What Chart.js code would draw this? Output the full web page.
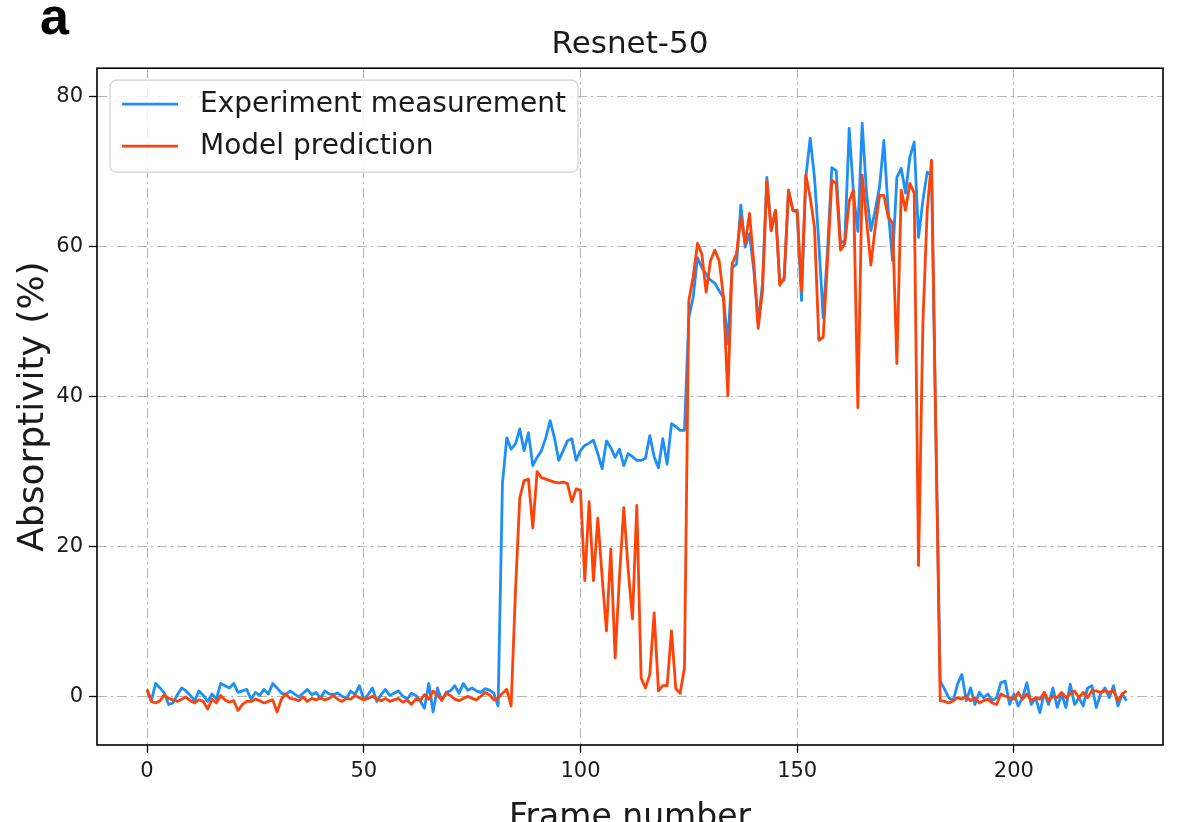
<!DOCTYPE html>
<html>
<head>
<meta charset="utf-8">
<script src="https://cdn.jsdelivr.net/npm/chart.js@4.4.1/dist/chart.umd.min.js"></script>
<style>
  html, body { margin: 0; padding: 0; background: #fff; overflow: hidden; }
  #wrap { width: 1179px; height: 850px; }
</style>
</head>
<body>
<div id="wrap"><canvas id="chart"></canvas></div>
<script>
// absorptivity per frame (%)
const measured = [
  1, -0.5, 1.8, 1.2, 0.5, -1, -0.8, 0.3, 1.2, 0.8,
  0.2, -0.5, 0.8, 0.2, -0.6, 0.4, -0.3, 1.8, 1.5, 1.2,
  1.8, 0.6, 0.8, 1.0, -0.3, 0.6, 0.2, 1.0, 0.4, 1.8,
  1.2, 0.5, 0.3, 0.8, 0.4, 0, 0.5, 1.0, 0.3, 0.6,
  -0.2, 0.8, 0.4, 0.3, 0.5, 0.1, -0.2, 0.8, 0.3, 1.5,
  -0.4, 0.3, 1.2, -0.6, 0.3, 1.0, 0.2, 0.5, 0.8, 0.1,
  -0.3, 0.5, 0.2, -0.5, -1.5, 1.8, -2, 1.2, -0.5, 0.6,
  0.8, 1.5, 0.5, 1.8, 0.9, 1.2, 0.8, 0.6, 1.1, 0.9,
  0.5, -1.2, 28.4, 34.5, 33, 33.7, 35.7, 32.8, 35.2, 30.8,
  31.9, 32.8, 34.5, 36.8, 34.5, 31.5, 32.8, 34.1, 34.4, 31.5,
  32.8, 33.5, 33.8, 34.2, 32.4, 30.4, 34.1, 33.2, 31.9, 33.0,
  30.8, 32.4, 32.0, 31.5, 31.5, 31.8, 34.8, 32.0, 30.5, 34.4,
  31.0, 36.4, 36.0, 35.5, 35.5, 50.5, 53.2, 58.5, 57.2, 56.3,
  55.5, 55.1, 54.1, 53.2, 47, 57.2, 57.6, 65.5, 59.9, 61.7,
  56.8, 49.7, 55.1, 69.2, 62.1, 64.8, 55.1, 55.5, 67.5, 64.8,
  64.5, 52.8, 69.2, 74.4, 69.2, 60.4, 50.5, 59.5, 70.5, 70.1,
  60.4, 60.8, 75.7, 67, 62, 76.4, 67.1, 62.1, 64.8, 67.9,
  74.1, 64.8, 58.1, 69.2, 70.4, 67.1, 71.9, 73.9, 61.2, 66.1,
  69.9, 69.5, 35, 2.1, 1.0, -0.1, -0.5, 1.7, 3.0, -0.5,
  1.2, -1.0, 0.6, -0.1, 0.4, -0.5, -0.1, 1.9, 2.1, -1.0,
  0.4, -1.2, -0.1, 1.9, -1.0, -0.1, -2.1, 0.6, -1.0, 1.2,
  -1.4, 0.4, -1.4, 1.7, -1.0, -0.1, -1.2, 1.2, 1.5, -1.4,
  0.4, 1.2, -0.1, 1.5, -1.2, 0.4, -0.5
];

const predicted = [
  1, -0.6, -0.8, -0.5, 0.3, -0.2, -0.4, -0.6, -0.3, 0,
  -0.5, -0.8, -0.4, -0.6, -1.6, -0.3, -0.8, 0.2, -0.4, -0.7,
  -0.5, -1.8, -1.0, -0.6, -0.6, -0.3, -0.5, -0.8, -0.6, -0.4,
  -2.0, -0.3, 0.4, -0.2, -0.3, -0.5, 0, -0.6, -0.2, -0.4,
  -0.1, -0.4, -0.2, 0.2, -0.3, -0.6, -0.2, -0.3, 0.2, -0.1,
  -0.4, -0.2, 0.1, -0.3, -0.5, -0.2, -0.6, -0.4, -0.2, -0.7,
  -0.4, -1.0, -0.3, -0.5, 0.3, -0.3, 0.8, 0.2, -0.4, 0.5,
  0.2, -0.3, -0.5, -0.2, 0.1, -0.2, -0.4, 0.1, 0.6, 0.3,
  -0.4, -0.2, 0.5, 1.0, -1.2, 14, 26.5, 28.8, 29, 22.5,
  30, 29.2, 29, 28.8, 28.6, 28.5, 28.6, 28.4, 26, 27.7,
  27.5, 15.5, 26, 15.5, 23.8, 16, 8.8, 19.7, 5.2, 16,
  25.2, 17, 10.4, 25.5, 2.5, 1.2, 3, 11.2, 0.8, 1.5,
  1.5, 8.8, 1.1, 0.5, 3.9, 52.8, 55.9, 60.4, 59, 53.9,
  58.1, 59.5, 58.1, 53.2, 40.1, 57.7, 59, 63.9, 60.4, 64.4,
  57.7, 49.1, 54.1, 68.8, 62.1, 64.8, 54.8, 55.9, 67.5, 64.8,
  64.8, 54.1, 69.5, 66.5, 62.5, 47.5, 47.9, 58.1, 68.8, 68.4,
  59.5, 60.4, 66, 67.5, 38.5, 69.5, 63.5, 57.5, 62.5, 66.8,
  66.8, 63.9, 63.1, 44.4, 67.5, 64.8, 68.4, 67.1, 17.5, 49.7,
  64.8, 71.5, 35, -0.5, -0.6, -0.8, -0.5, -0.1, -0.3, 0.1,
  -0.5, -0.1, -0.8, -0.5, -0.3, -0.8, -1.0, 0.4, 0.1, -0.1,
  -0.3, 0.6, -0.3, 0.4, -0.5, -0.1, -0.3, 0.6, -0.5, 0.1,
  -0.1, 0.6, -0.1, 0.4, 0.8, -0.1, 0.6, -0.1, 0.8, 0.8,
  0.6, 0.8, 0.6, 0.8, -0.5, 0.4, 0.8
];

const xTicks = [0, 50, 100, 150, 200];
const yTicks = [0, 20, 40, 60, 80];
const seriesNames = ['Experiment measurement', 'Model prediction'];

const toPoints = (values) => values.map((v, i) => ({ x: i, y: v }));

const font = 'DejaVu Sans';
const ink = '#1a1a1a';

// black frame round the plot, like matplotlib spines
const frameBox = {
  id: 'frameBox',
  afterDatasetsDraw(chart) {
    const { ctx, chartArea: a } = chart;
    ctx.save();
    ctx.strokeStyle = '#000';
    ctx.lineWidth = 1.6;
    ctx.strokeRect(a.left, a.top, a.right - a.left, a.bottom - a.top);
    ctx.restore();
  }
};

// boxed legend in the upper left corner of the plot
const boxLegend = {
  id: 'boxLegend',
  afterDraw(chart) {
    const { ctx, chartArea: a } = chart;
    const x = a.left + 13, y = a.top + 12, w = 468, h = 92;
    ctx.save();
    ctx.beginPath();
    ctx.roundRect(x, y, w, h, 6);
    ctx.fillStyle = 'rgba(255,255,255,0.8)';
    ctx.fill();
    ctx.strokeStyle = '#d2d2d2';
    ctx.lineWidth = 1.2;
    ctx.stroke();
    chart.data.datasets.forEach((ds, i) => {
      const ly = y + 24 + i * 42;
      ctx.beginPath();
      ctx.moveTo(x + 12, ly);
      ctx.lineTo(x + 68, ly);
      ctx.strokeStyle = ds.borderColor;
      ctx.lineWidth = 2.8;
      ctx.stroke();
      ctx.fillStyle = ink;
      ctx.font = '28px "' + font + '"';
      ctx.textBaseline = 'middle';
      ctx.fillText(ds.label, x + 90, ly + 1);
    });
    ctx.restore();
  }
};

// panel letter
const panelLetter = {
  id: 'panelLetter',
  afterDraw(chart) {
    const { ctx } = chart;
    ctx.save();
    ctx.fillStyle = '#000';
    ctx.font = 'bold 52px "Liberation Sans"';
    ctx.textBaseline = 'alphabetic';
    ctx.fillText('a', 40, 34);
    ctx.restore();
  }
};

const ctx = document.getElementById('chart');

new Chart(ctx, {
  type: 'line',
  data: {
    datasets: [{
      label: seriesNames[0],
      data: toPoints(measured),
      borderColor: '#1e8ff5',
      borderWidth: 2.8,
      pointRadius: 0,
      tension: 0,
      borderJoinStyle: 'round',
      order: 1
    }, {
      label: seriesNames[1],
      data: toPoints(predicted),
      borderColor: '#ff4208',
      borderWidth: 2.8,
      pointRadius: 0,
      tension: 0,
      borderJoinStyle: 'round',
      order: 0
    }]
  },
  options: {
    responsive: true,
    maintainAspectRatio: false,
    animation: false,
    layout: { padding: { left: 0, right: 16, top: 0, bottom: 0 } },
    scales: {
      x: {
        type: 'linear',
        min: -11.54,
        max: 234.4,
        afterBuildTicks: (scale) => { scale.ticks = xTicks.map(v => ({ value: v })); },
        afterFit: (scale) => { scale.height = 105; },
        grid: { color: '#b3b3b3', lineWidth: 1, tickLength: 8, tickColor: '#000', tickWidth: 1.3, tickBorderDash: [] },
        border: { display: false, dash: [10, 4, 2, 4] },
        ticks: { color: ink, font: { family: font, size: 21 }, padding: 6, maxRotation: 0 },
        title: { display: true, text: 'Frame number', color: ink, font: { family: font, size: 33 }, padding: { top: 0, bottom: 12 } }
      },
      y: {
        min: -6.4,
        max: 83.73,
        afterBuildTicks: (scale) => { scale.ticks = yTicks.map(v => ({ value: v })); },
        afterFit: (scale) => { scale.width = 97; },
        grid: { color: '#b3b3b3', lineWidth: 1, tickLength: 8, tickColor: '#000', tickWidth: 1.3, tickBorderDash: [] },
        border: { display: false, dash: [10, 4, 2, 4] },
        ticks: { color: ink, font: { family: font, size: 21 }, padding: 6 },
        title: { display: true, text: 'Absorptivity (%)', color: ink, font: { family: font, size: 36 }, padding: { top: 12, bottom: 0 } }
      }
    },
    plugins: {
      legend: { display: false },
      tooltip: { enabled: false },
      title: {
        display: true,
        text: 'Resnet-50',
        fullSize: false,
        color: ink,
        font: { family: font, size: 31, weight: 'normal' },
        padding: { top: 26, bottom: 5 }
      }
    }
  },
  plugins: [frameBox, boxLegend, panelLetter]
});
</script>
</body>
</html>
